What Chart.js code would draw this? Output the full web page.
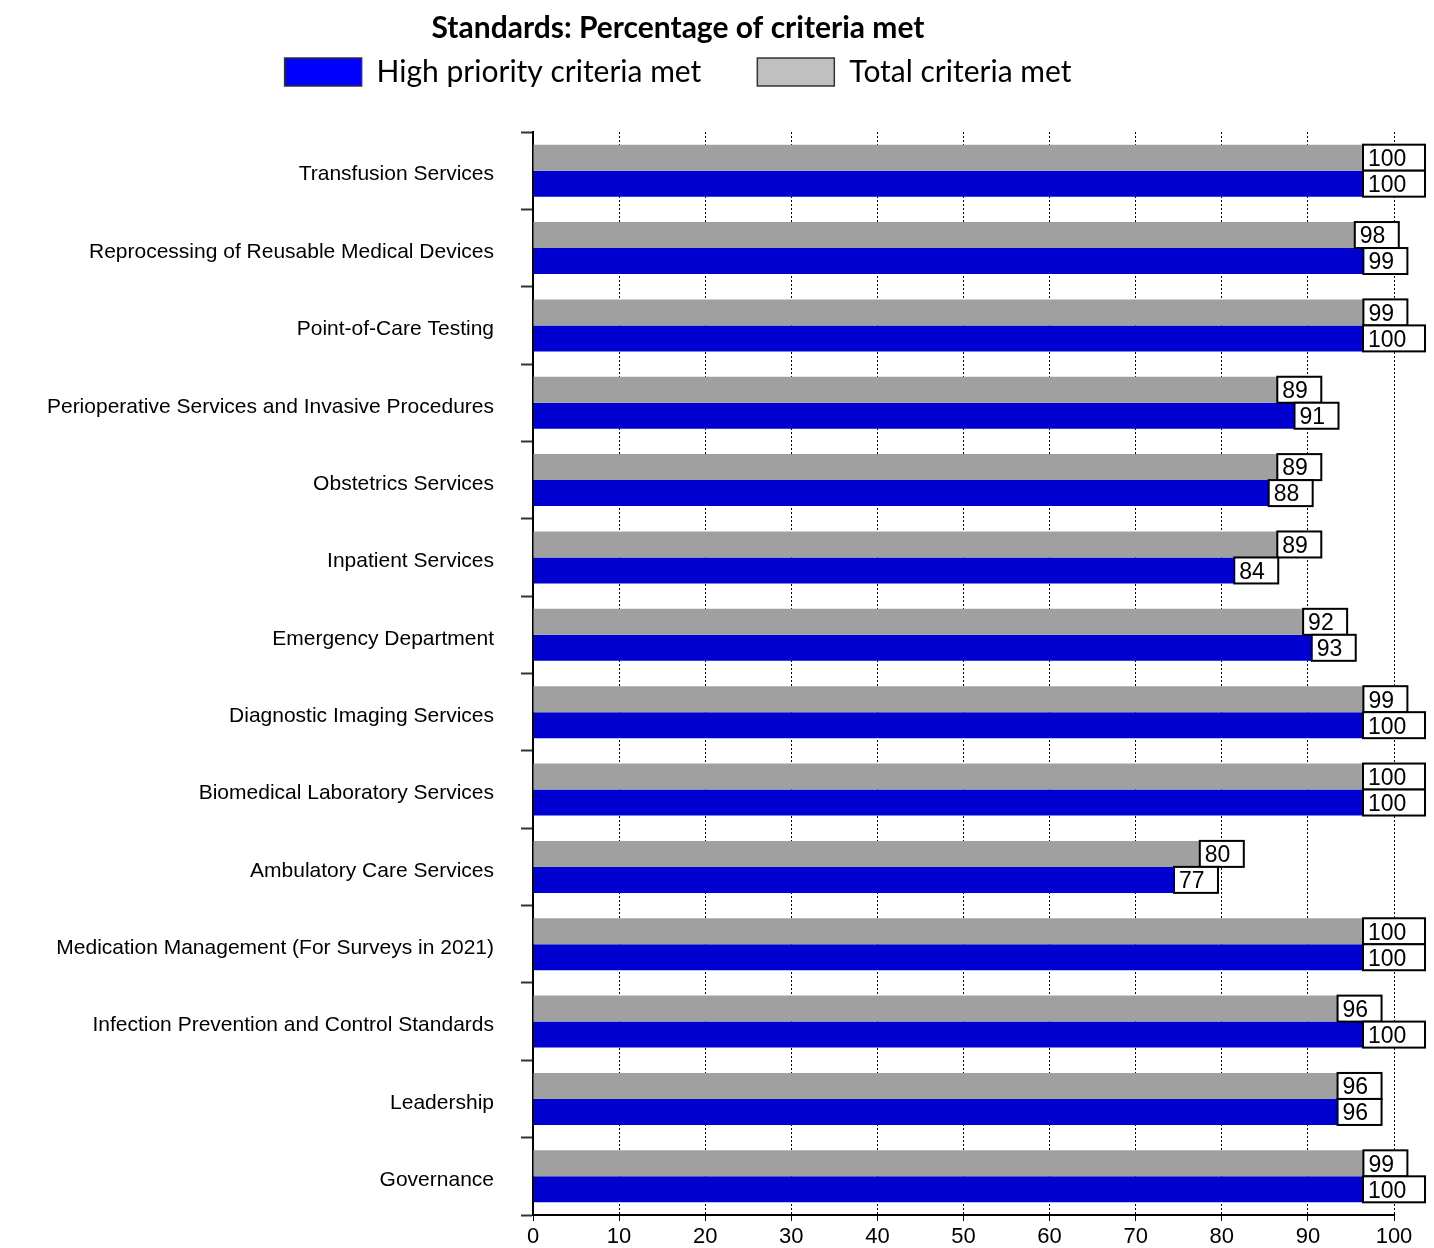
<!DOCTYPE html>
<html>
<head>
<meta charset="utf-8">
<script src="https://cdn.jsdelivr.net/npm/chart.js@4"></script>
<style>
  body { margin: 0; background: #fff; }
  canvas { display: block; }
</style>
</head>
<body>
<canvas id="standardsChart" width="1434" height="1248"></canvas>
<script>
// Categories, top to bottom
const categories = [
    'Transfusion Services',
    'Reprocessing of Reusable Medical Devices',
    'Point-of-Care Testing',
    'Perioperative Services and Invasive Procedures',
    'Obstetrics Services',
    'Inpatient Services',
    'Emergency Department',
    'Diagnostic Imaging Services',
    'Biomedical Laboratory Services',
    'Ambulatory Care Services',
    'Medication Management (For Surveys in 2021)',
    'Infection Prevention and Control Standards',
    'Leadership',
    'Governance'
];
const totalMet = [100, 98, 99, 89, 89, 89, 92, 99, 100, 80, 100, 96, 96, 99];
const highPriorityMet = [100, 99, 100, 91, 88, 84, 93, 100, 100, 77, 100, 100, 96, 100];
const xTicks = [0, 10, 20, 30, 40, 50, 60, 70, 80, 90, 100];

// Draw boxed value labels centred on the end of every bar
const valueBoxes = {
    id: 'valueBoxes',
    afterDatasetsDraw(chart) {
        const c = chart.ctx;
        c.save();
        c.font = '23px "Liberation Sans", Arial, sans-serif';
        c.textBaseline = 'middle';
        c.textAlign = 'left';
        chart.data.datasets.forEach((ds, i) => {
            chart.getDatasetMeta(i).data.forEach((bar, j) => {
                const txt = String(ds.data[j]);
                const w = 18 * txt.length + 8;
                const h = bar.height;
                const x = bar.x - w / 2;
                const y = bar.y - h / 2;
                c.fillStyle = '#fff';
                c.fillRect(x, y, w, h);
                c.strokeStyle = '#000';
                c.lineWidth = 2;
                c.strokeRect(x, y, w, h);
                c.fillStyle = '#000';
                c.fillText(txt, x + 5, bar.y + 2);
            });
        });
        c.restore();
    }
};

const ctx = document.getElementById('standardsChart').getContext('2d');
const standardsChart = new Chart(ctx, {
    type: 'bar',
    data: {
        labels: categories,
        datasets: [
            {
                label: 'Total criteria met',
                data: totalMet,
                backgroundColor: '#a0a0a0',
                categoryPercentage: 0.672,
                barPercentage: 1.0
            },
            {
                label: 'High priority criteria met',
                data: highPriorityMet,
                backgroundColor: '#0000d0',
                categoryPercentage: 0.672,
                barPercentage: 1.0
            }
        ]
    },
    options: {
        indexAxis: 'y',
        responsive: false,
        animation: false,
        devicePixelRatio: 1,
        layout: { padding: { left: -38, right: 40, top: 0, bottom: 0 } },
        scales: {
            x: {
                min: 0,
                max: 100,
                afterBuildTicks(scale) {
                    scale.ticks = xTicks.map(v => ({ value: v }));
                },
                afterFit(scale) { scale.height = 33; },
                border: { display: true, color: '#000', width: 2, dash: [2, 2] },
                grid: {
                    color: '#000',
                    lineWidth: 1,
                    drawTicks: true,
                    tickLength: 6,
                    tickColor: '#000',
                    tickBorderDash: []
                },
                ticks: {
                    color: '#000',
                    padding: 3,
                    maxRotation: 0,
                    font: { family: '"Liberation Sans Narrow", "Arial Narrow", Arial, sans-serif', size: 22 }
                }
            },
            // empty top axis, only keeps a gap between the legend and the plot
            gap: {
                type: 'linear',
                position: 'top',
                min: 0,
                max: 100,
                afterFit(scale) { scale.height = 35; },
                border: { display: false },
                grid: { display: false },
                ticks: { display: false }
            },
            y: {
                afterFit(scale) {
                    scale.width = 571;
                    scale.paddingTop = 0;
                    scale.paddingBottom = 0;
                },
                border: { display: true, color: '#000', width: 2 },
                grid: {
                    offset: true,
                    drawOnChartArea: false,
                    drawTicks: true,
                    tickLength: 12,
                    tickColor: '#333',
                    tickWidth: 2
                },
                ticks: {
                    color: '#000',
                    padding: 27,
                    labelOffset: 4,
                    font: { family: '"Liberation Sans", Arial, sans-serif', size: 21 }
                }
            }
        },
        plugins: {
            title: {
                display: true,
                text: 'Standards: Percentage of criteria met',
                color: '#000',
                font: { family: 'Lato, "Open Sans", sans-serif', size: 30, weight: 'bold' },
                padding: { top: 10, bottom: -45 }
            },
            legend: {
                display: true,
                reverse: true,
                labels: {
                    color: '#000',
                    boxWidth: 77,
                    boxHeight: 28,
                    padding: 56,
                    font: { family: 'Lato, "Open Sans", sans-serif', size: 30 },
                    generateLabels(chart) {
                        const items = Chart.defaults.plugins.legend.labels.generateLabels(chart);
                        items.forEach(it => {
                            it.fillStyle = it.datasetIndex === 1 ? '#0000ff' : '#c0c0c0';
                            it.strokeStyle = '#333';
                            it.lineWidth = 1.5;
                        });
                        return items;
                    }
                }
            },
            tooltip: { enabled: false }
        }
    },
    plugins: [valueBoxes]
});
</script>
</body>
</html>
